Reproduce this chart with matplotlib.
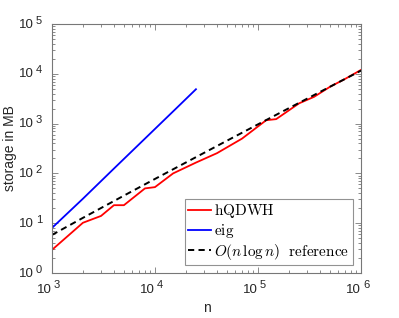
import math

import matplotlib
matplotlib.use('Agg')
import matplotlib.pyplot as plt
from matplotlib.font_manager import FontProperties
from matplotlib.ticker import LogLocator, NullFormatter

# Values
n_hqdwh = [1e3, 2e3, 3e3, 4e3, 5e3, 8e3, 1e4, 1.5e4, 2.5e4, 4e4, 7e4,
           1.2e5, 1.5e5, 2.5e5, 3.5e5, 5e5, 7e5, 1e6]
mb_hqdwh = [2.9, 10.2, 14, 23, 23, 50, 53, 100, 165, 255, 500,
            1170, 1230, 2550, 3450, 5500, 7900, 12000]

n_eig = [1e3, 2e3, 4e3, 8e3, 1.6e4, 2.5e4]
mb_eig = [8, 31, 125, 500, 2000, 4900]

n_ref = [1e3, 2e3, 5e3, 1e4, 2e4, 5e4, 1e5, 2e5, 5e5, 1e6]
mb_ref = [5.8, 12.8, 35.8, 77.4, 166, 454, 967, 2050, 5510, 11600]

x_ticks = [1e3, 1e4, 1e5, 1e6]
y_ticks = [1e0, 1e1, 1e2, 1e3, 1e4, 1e5]

labels = [r'$\mathrm{hQDWH}$', r'$\mathrm{eig}$',
          r'$O(n\,\log n)\ \ \mathrm{reference}$']

plt.rcParams['font.family'] = ['Liberation Sans', 'DejaVu Sans']

fig = plt.figure(figsize=(3.99, 3.18), dpi=100)
ax = fig.add_axes([0.130, 0.1415, 0.775, 0.783])

ax.plot(n_hqdwh, mb_hqdwh, color='#ff0000', lw=1.3, label=labels[0])
ax.plot(n_eig, mb_eig, color='#0000ff', lw=1.3, label=labels[1])
ax.plot(n_ref, mb_ref, color='black', lw=1.4, ls=(0, (3.2, 2.2)), label=labels[2])

ax.set_xscale('log')
ax.set_yscale('log')
ax.set_xlim(1e3, 1e6)
ax.set_ylim(1e0, 1e5)

axis_col = '#262626'
frame_col = '#777777'
ax.set_xticks(x_ticks)
ax.set_yticks(y_ticks)
ax.xaxis.set_minor_locator(LogLocator(base=10, subs=range(2, 10), numticks=20))
ax.yaxis.set_minor_locator(LogLocator(base=10, subs=range(2, 10), numticks=20))
ax.xaxis.set_major_formatter(NullFormatter())
ax.yaxis.set_major_formatter(NullFormatter())
ax.tick_params(which='both', direction='in', top=True, right=True,
               colors=frame_col, width=0.6)
ax.tick_params(which='major', length=4)
ax.tick_params(which='minor', length=2)
for s in ax.spines.values():
    s.set_color(frame_col)
    s.set_linewidth(0.8)

# MATLAB-style "10 ^k" tick labels with a large, detached exponent
base_size, exp_size = 9.5, 8
xt = ax.get_xaxis_transform()
for v in x_ticks:
    k = round(math.log10(v))
    ax.annotate('10', (v, 0), xycoords=xt, xytext=(0, -16.5),
                textcoords='offset pixels', ha='right', va='center',
                fontsize=base_size, color=axis_col)
    ax.annotate(str(k), (v, 0), xycoords=xt, xytext=(2, -12),
                textcoords='offset pixels', ha='left', va='center',
                fontsize=exp_size, color=axis_col)
yt = ax.get_yaxis_transform()
for v in y_ticks:
    k = round(math.log10(v))
    ax.annotate('10', (0, v), xycoords=yt, xytext=(-18, -0.5),
                textcoords='offset pixels', ha='right', va='center',
                fontsize=base_size, color=axis_col)
    ax.annotate(str(k), (0, v), xycoords=yt, xytext=(-16, 3.5),
                textcoords='offset pixels', ha='left', va='center',
                fontsize=exp_size, color=axis_col)

ax.set_xlabel('n', fontsize=10, color=axis_col, labelpad=17)
ax.set_ylabel('storage in MB', fontsize=10, color=axis_col, labelpad=21.5)

leg_font = FontProperties(size=11, math_fontfamily='cm')
leg = ax.legend(loc='lower right', prop=leg_font, frameon=True, fancybox=False,
                edgecolor=frame_col, handlelength=1.45, handletextpad=0.25,
                borderpad=0.25, labelspacing=0.1, borderaxespad=0.5)
leg.get_frame().set_linewidth(0.8)

fig.savefig('out.png', dpi=100)
